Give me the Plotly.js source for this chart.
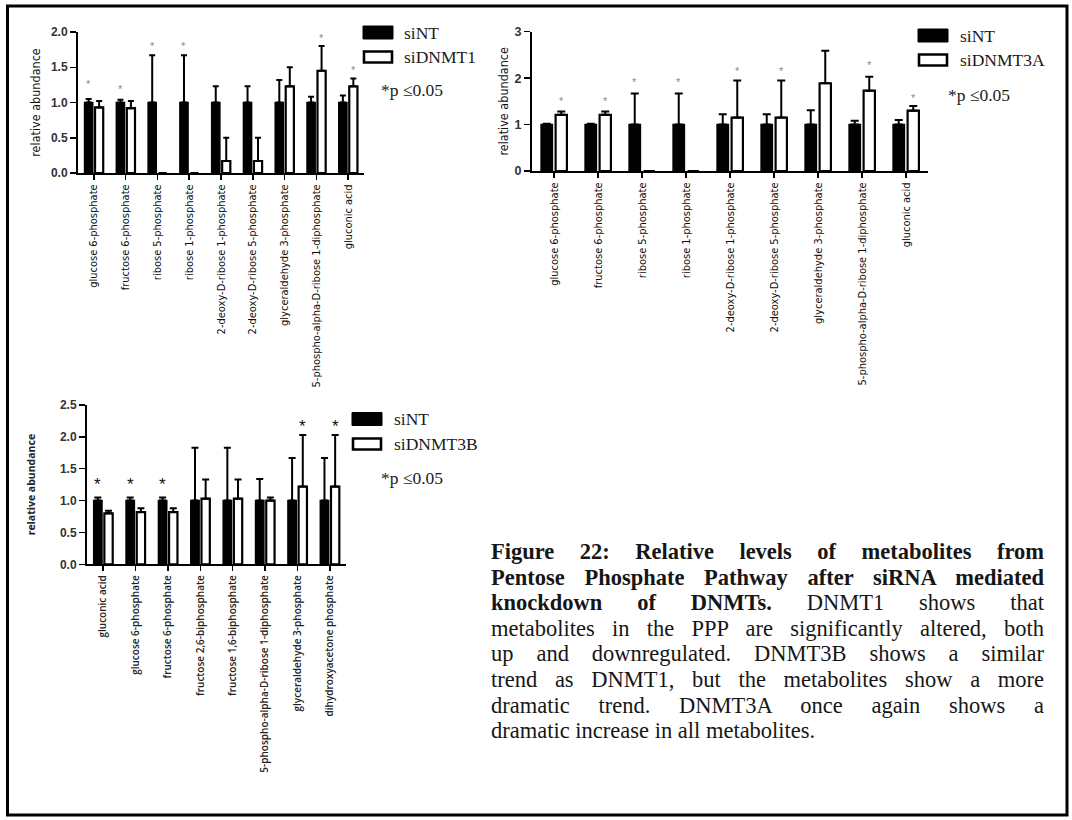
<!DOCTYPE html>
<html><head><meta charset="utf-8">
<script src="https://cdn.plot.ly/plotly-3.0.1.min.js"></script>
<style>
html,body{margin:0;padding:0;background:#fff;}
#wrap{position:relative;width:1072px;height:820px;overflow:hidden;}
#chart{position:absolute;left:0;top:0;width:1072px;height:820px;}
#caption{position:absolute;left:491px;top:539px;width:553px;font-family:"Liberation Serif","Times New Roman",serif;font-size:22.5px;line-height:25.6px;color:#161616;}
#caption .ln{text-align:justify;text-align-last:justify;white-space:nowrap;}
#caption .last{text-align:left;text-align-last:left;white-space:nowrap;}
</style>
</head><body>
<div id="wrap"><div id="chart"></div>
<div id="caption">
<div class="ln"><b>Figure 22: Relative levels of metabolites from</b></div>
<div class="ln"><b>Pentose Phosphate Pathway after siRNA mediated</b></div>
<div class="ln"><b>knockdown of DNMTs.</b> DNMT1 shows that</div>
<div class="ln">metabolites in the PPP are significantly altered, both</div>
<div class="ln">up and downregulated. DNMT3B shows a similar</div>
<div class="ln">trend as DNMT1, but the metabolites show a more</div>
<div class="ln">dramatic trend. DNMT3A once again shows a</div>
<div class="last">dramatic increase in all metabolites.</div>
</div>
</div>
<script>
// ---------- DATA ----------
const seriesNT = 'siNT';
const series1 = 'siDNMT1';
const series2 = 'siDNMT3A';
const series3 = 'siDNMT3B';
const sigLabel = '*p \u22640.05';
const yTitle = 'relative abundance';

const cats1 = ['glucose 6-phosphate','fructose 6-phosphate','ribose 5-phosphate','ribose 1-phosphate','2-deoxy-D-ribose 1-phosphate','2-deoxy-D-ribose 5-phosphate','glyceraldehyde 3-phosphate','5-phospho-alpha-D-ribose 1-diphosphate','gluconic acid'];
const nt1    = [1, 1, 1, 1, 1, 1, 1, 1, 1];
const nt1Err = [0.05, 0.04, 0.67, 0.67, 0.23, 0.23, 0.32, 0.08, 0.10];
const d1     = [0.93, 0.92, 0, 0, 0.17, 0.17, 1.23, 1.45, 1.23];
const d1Err  = [0.09, 0.10, 0, 0, 0.33, 0.33, 0.27, 0.35, 0.11];
const sig1   = [1.29, 1.22, 1.83, 1.83, null, null, null, 1.94, 1.49];

const cats2 = ['glucose 6-phosphate','fructose 6-phosphate','ribose 5-phosphate','ribose 1-phosphate','2-deoxy-D-ribose 1-phosphate','2-deoxy-D-ribose 5-phosphate','glyceraldehyde 3-phosphate','5-phospho-alpha-D-ribose 1-diphosphate','gluconic acid'];
const nt2    = [1, 1, 1, 1, 1, 1, 1, 1, 1];
const nt2Err = [0.02, 0.02, 0.67, 0.67, 0.22, 0.22, 0.31, 0.08, 0.10];
const d2     = [1.21, 1.21, 0, 0, 1.15, 1.15, 1.89, 1.73, 1.30];
const d2Err  = [0.07, 0.07, 0, 0, 0.80, 0.80, 0.70, 0.30, 0.10];
const sig2   = [1.55, 1.55, 1.95, 1.95, 2.2, 2.2, null, 2.33, 1.62];

const cats3 = ['gluconic acid','glucose 6-phosphate','fructose 6-phosphate','fructose 2,6-biphosphate','fructose 1,6-biphosphate','5-phospho-alpha-D-ribose 1-diphosphate','glyceraldehyde 3-phosphate','dihydroxyacetone phosphate'];
const nt3    = [1, 1, 1, 1, 1, 1, 1, 1];
const nt3Err = [0.05, 0.05, 0.05, 0.83, 0.83, 0.34, 0.67, 0.67];
const d3     = [0.80, 0.82, 0.82, 1.03, 1.03, 1.00, 1.22, 1.22];
const d3Err  = [0.04, 0.06, 0.06, 0.30, 0.30, 0.05, 0.81, 0.81];
const sig3   = [1.31, 1.31, 1.31, null, null, null, 2.23, 2.23];

// ---------- LAYOUT HELPERS ----------
const W = 1072, H = 820;
const px = x => x / W;
const py = y => 1 - y / H;
const NARROW = '"Liberation Sans Narrow","DejaVu Sans Condensed","Arial Narrow",Arial,sans-serif';
const SANS = '"Liberation Sans",Arial,sans-serif';
const OPEN = '"Open Sans","DejaVu Sans",sans-serif';
const SERIF = '"Liberation Serif","Times New Roman",serif';
const BARGAP = 0.34, GROUPGAP = 0.22;

function pair(cats, nt, ntErr, d, dErr, dName, xa, ya, cap, thick) {
  const zeros = cats.map(() => 0);
  return [
    {type:'bar', x:cats, y:nt, name:seriesNT, xaxis:xa, yaxis:ya, showlegend:false,
     marker:{color:'#000', line:{color:'#000', width:1.5}},
     error_y:{type:'data', symmetric:false, array:ntErr, arrayminus:zeros, color:'#000', thickness:thick, width:cap}},
    {type:'bar', x:cats, y:d, name:dName, xaxis:xa, yaxis:ya, showlegend:false,
     marker:{color:'#fff', line:{color:'#000', width:2.2}},
     error_y:{type:'data', symmetric:false, array:dErr, arrayminus:zeros, color:'#000', thickness:thick, width:cap}}
  ];
}

const data = [].concat(
  pair(cats1, nt1, nt1Err, d1, d1Err, series1, 'x', 'y', 3, 2),
  pair(cats2, nt2, nt2Err, d2, d2Err, series2, 'x2', 'y2', 4, 2),
  pair(cats3, nt3, nt3Err, d3, d3Err, series3, 'x3', 'y3', 3.5, 2)
);

function xAxis(dom, anchor, n, font) {
  return {domain:dom, anchor:anchor, type:'category', range:[-0.5, n - 0.5],
    showline:true, linecolor:'#000', linewidth:2, ticks:'outside', ticklen:5, tickwidth:1.5, tickcolor:'#000',
    tickangle:-90, tickfont:font, showgrid:false, zeroline:false, fixedrange:true, automargin:false};
}
function yAxis(dom, anchor, range, dtick, fmt, font, tfont, standoff) {
  return {domain:dom, anchor:anchor, range:range, dtick:dtick, tick0:0, tickformat:fmt,
    showline:true, linecolor:'#000', linewidth:2, ticks:'outside', ticklen:6, tickwidth:1.5, tickcolor:'#000',
    tickfont:font, showgrid:false, zeroline:false, fixedrange:true, automargin:false,
    title:{text:yTitle, font:tfont, standoff:standoff}};
}

const dom1x = [px(78), px(364)], dom1y = [py(173), py(32)];
const dom2x = [px(532), px(928)], dom2y = [py(171), py(31.7)];
const dom3x = [px(87), px(346)], dom3y = [py(564.3), py(405)];

// significance stars: over the bar whose error bar reaches higher
function stars(cats, nt, ntErr, d, dErr, sig, xa, ya, dom, font, yshift) {
  const catW = (dom[1] - dom[0]) * W / cats.length;
  const off = catW * (1 - BARGAP) / 4;
  const out = [];
  cats.forEach((c, i) => {
    if (sig[i] == null) return;
    const side = (nt[i] + ntErr[i] >= d[i] + dErr[i]) ? -1 : 1;
    out.push({xref:xa, yref:ya, x:c, y:sig[i], text:'*', showarrow:false,
      xanchor:'center', yanchor:'middle', xshift:side * off, yshift:yshift, font:font});
  });
  return out;
}

const legFont = {family:SERIF, size:17.5, color:'#1a1a1a'};
function legend(x0, yBlack, yWhite, textX, name, pX, pY) {
  const shapes = [
    {type:'rect', xref:'paper', yref:'paper', x0:px(x0), x1:px(x0 + 30), y0:py(yBlack + 6.5), y1:py(yBlack - 6.5),
     fillcolor:'#000', line:{color:'#000', width:1}},
    {type:'rect', xref:'paper', yref:'paper', x0:px(x0 + 1), x1:px(x0 + 29), y0:py(yWhite + 5.5), y1:py(yWhite - 5.5),
     fillcolor:'#fff', line:{color:'#000', width:2.6}}
  ];
  const ann = [
    {xref:'paper', yref:'paper', x:px(textX), y:py(yBlack), xanchor:'left', yanchor:'middle', text:seriesNT, showarrow:false, font:legFont},
    {xref:'paper', yref:'paper', x:px(textX), y:py(yWhite), xanchor:'left', yanchor:'middle', text:name, showarrow:false, font:legFont},
    {xref:'paper', yref:'paper', x:px(pX), y:py(pY), xanchor:'left', yanchor:'middle', text:sigLabel, showarrow:false, font:legFont}
  ];
  return {shapes, ann};
}

const L1 = legend(363, 32.5, 57, 402, series1, 379, 90);
const L2 = legend(918, 35.5, 60, 958, series2, 946, 95);
const L3 = legend(352, 419, 444, 392, series3, 379, 478);

const smallStar = {family:SANS, size:11, color:'#8a8a8a'};
const bigStar = {family:SANS, size:17, color:'#111'};

const annotations = [].concat(
  stars(cats1, nt1, nt1Err, d1, d1Err, sig1, 'x', 'y', dom1x, smallStar, -2),
  stars(cats2, nt2, nt2Err, d2, d2Err, sig2, 'x2', 'y2', dom2x, smallStar, -2),
  stars(cats3, nt3, nt3Err, d3, d3Err, sig3, 'x3', 'y3', dom3x, bigStar, -4),
  L1.ann, L2.ann, L3.ann
);

const shapes = [].concat(L1.shapes, L2.shapes, L3.shapes, [
  {type:'rect', xref:'paper', yref:'paper', x0:px(7.5), x1:px(1067), y0:py(815), y1:py(6), line:{color:'#000', width:3}, fillcolor:'rgba(0,0,0,0)'}
]);

const layout = {
  width:W, height:H, margin:{l:0, r:0, t:0, b:0}, paper_bgcolor:'#fff', plot_bgcolor:'rgba(0,0,0,0)',
  barmode:'group', bargap:BARGAP, bargroupgap:GROUPGAP, showlegend:false,
  xaxis: xAxis(dom1x, 'y', cats1.length, {family:NARROW, size:11, color:'#0d0d0d'}),
  yaxis: yAxis(dom1y, 'x', [0, 2], 0.5, '.1f', {family:SANS, size:12, color:'#333', weight:'bold'}, {family:NARROW, size:12.5, color:'#111'}, 8),
  xaxis2: xAxis(dom2x, 'y2', cats2.length, {family:NARROW, size:11, color:'#0d0d0d'}),
  yaxis2: yAxis(dom2y, 'x2', [0, 3], 1, 'd', {family:SANS, size:12.5, color:'#333', weight:'bold'}, {family:NARROW, size:12.5, color:'#111'}, 3),
  xaxis3: xAxis(dom3x, 'y3', cats3.length, {family:OPEN, size:10, color:'#222', weight:600}),
  yaxis3: yAxis(dom3y, 'x3', [0, 2.5], 0.5, '.1f', {family:SANS, size:12, color:'#333', weight:'bold'}, {family:OPEN, size:10.5, color:'#222', weight:'bold'}, 22),
  annotations: annotations,
  shapes: shapes
};

Plotly.newPlot('chart', data, layout, {staticPlot:true, displayModeBar:false});
</script>
</body></html>
